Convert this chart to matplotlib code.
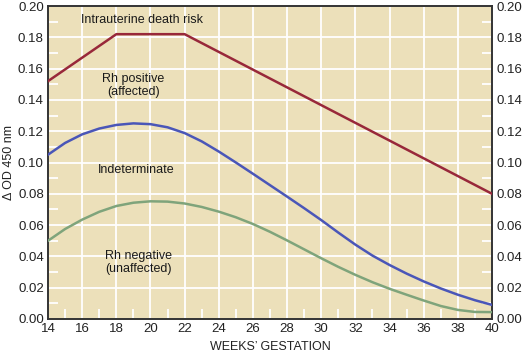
import numpy as np
import matplotlib
matplotlib.use("Agg")
import matplotlib.pyplot as plt
from matplotlib.ticker import MultipleLocator

plt.rcParams['font.family'] = ['Liberation Sans', 'DejaVu Sans']

weeks = list(range(14, 41))

# intrauterine death risk line (corners)
risk_weeks = [14, 18, 22, 40]
risk_od = [0.152, 0.182, 0.182, 0.080]

# upper boundary of indeterminate zone
upper_od = [0.105, 0.1125, 0.118, 0.1217, 0.124, 0.125, 0.1245, 0.1225, 0.1188,
            0.1135, 0.107, 0.100, 0.0928, 0.0855, 0.0782, 0.0708, 0.0632, 0.0552,
            0.0475, 0.0405, 0.0345, 0.029, 0.024, 0.0195, 0.0155, 0.012, 0.009]

# lower boundary (Rh negative)
lower_od = [0.050, 0.0575, 0.0635, 0.0685, 0.0722, 0.0743, 0.0752, 0.075, 0.0738,
            0.0716, 0.0686, 0.065, 0.0607, 0.0557, 0.0502, 0.0445, 0.0388, 0.0333,
            0.0282, 0.0235, 0.0193, 0.0155, 0.0118, 0.0083, 0.0058, 0.0045, 0.0044]

zone_labels = ["Intrauterine death risk", "Rh positive\n(affected)",
               "Indeterminate", "Rh negative\n(unaffected)"]
label_x = [19.5, 19.0, 19.15, 19.3]
label_y = [0.191, 0.149, 0.095, 0.036]

fig = plt.figure(figsize=(5.26, 3.54), dpi=100)
ax = fig.add_axes([0.0913, 0.0989, 0.8441, 0.8841])
ax.set_facecolor('#ece0ba')

ax.plot(risk_weeks, risk_od, color='#98283a', lw=1.8, zorder=3)
ax.plot(weeks, upper_od, color='#4a56b8', lw=1.8, zorder=3, solid_joinstyle='round')
ax.plot(weeks, lower_od, color='#7fa47b', lw=1.8, zorder=3, solid_joinstyle='round')

for t, x, y in zip(zone_labels, label_x, label_y):
    ax.text(x, y, t, ha='center', va='center', fontsize=9, color='#1a1a1a',
            linespacing=1.1, zorder=4)

ax.set_xlim(14, 40)
ax.set_ylim(0, 0.20)
ax.xaxis.set_major_locator(MultipleLocator(2))
ax.xaxis.set_minor_locator(MultipleLocator(1))
ax.yaxis.set_major_locator(MultipleLocator(0.02))
ax.yaxis.set_minor_locator(MultipleLocator(0.01))
ax.yaxis.set_major_formatter(plt.FormatStrFormatter('%.2f'))

ax.grid(True, which='major', color='white', lw=1.3, zorder=1)
ax.set_axisbelow(True)

ax.tick_params(which='major', length=0, labelsize=9.5, pad=3, colors='#222222')
ax.tick_params(axis='y', which='both', right=True, labelright=True)
ax.tick_params(which='minor', direction='in', length=7, width=1.3, color='white')

for s in ax.spines.values():
    s.set_color('#333333')
    s.set_linewidth(1.4)

ax.set_xlabel("WEEKS\u2019 GESTATION", fontsize=9, labelpad=4, color='#222222')
ax.set_ylabel("\u0394 OD 450 nm", fontsize=9, labelpad=2, color='#222222')

plt.savefig("out.png", dpi=100)
